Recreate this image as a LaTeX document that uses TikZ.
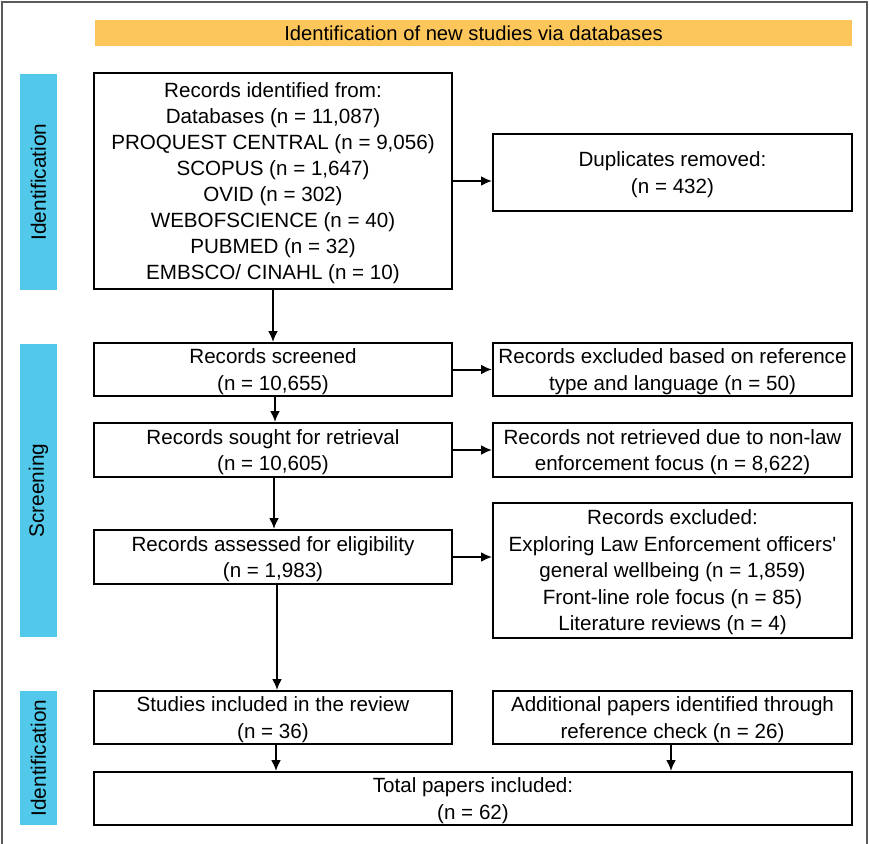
\documentclass[tikz,border=0pt]{standalone}
\usepackage{fontspec}
\setmainfont{Liberation Sans}[Ligatures=TeXOff]
\usetikzlibrary{arrows.meta}
\definecolor{bannerorange}{RGB}{253,198,90}
\definecolor{sidecyan}{RGB}{82,201,234}
\definecolor{framegray}{RGB}{90,90,90}
\begin{document}
\begin{tikzpicture}[x=1pt,y=-1pt,
  box/.style={draw=black, line width=2pt, fill=white, align=center, inner sep=0pt,
    font=\fontsize{20.6}{26.5}\selectfont, text=black, text depth=-2pt},
  arr/.style={line width=2pt, -{Latex[length=11pt,width=10pt]}},
  sidelabel/.style={fill=sidecyan, inner sep=0pt, rotate=90, minimum height=37pt,
    font=\fontsize{20.8}{24}\selectfont, text=black},
  banner/.style={fill=bannerorange, inner sep=0pt, font=\fontsize{20.2}{24}\selectfont, text=black},
]
\useasboundingbox (0,0) rectangle (869,843);
\fill[white] (0,0) rectangle (869,843);
\draw[framegray, line width=1.4pt] (2,2) rectangle (867,852);

\node[banner, minimum width=757pt, minimum height=26pt] (ban) at (473.5,33)
  {Identification of new studies via databases};

\node[sidelabel, minimum width=216pt] (s1) at (38.5,182) {Identification};
\node[sidelabel, minimum width=293pt] (s2) at (38.5,490.5) {Screening};
\node[sidelabel, minimum width=134pt] (s3) at (38.5,758) {Identification};

\node[box, minimum width=358pt, minimum height=216pt, text depth=-8pt,
      font=\fontsize{20.6}{26.1}\selectfont] (b1) at (273,181)
  {Records identified from:\\Databases (n = 11,087)\\PROQUEST CENTRAL (n = 9,056)\\SCOPUS (n = 1,647)\\OVID (n = 302)\\WEBOFSCIENCE (n = 40)\\PUBMED (n = 32)\\EMBSCO/ CINAHL (n = 10)};
\node[box, minimum width=359pt, minimum height=77pt] (dup) at (672.5,172.5)
  {Duplicates removed:\\(n = 432)};

\node[box, minimum width=358pt, minimum height=53pt] (scr) at (273,369.5)
  {Records screened\\(n = 10,655)};
\node[box, minimum width=359pt, minimum height=53pt] (exc1) at (672.5,369.5)
  {Records excluded based on reference\\type and language (n = 50)};

\node[box, minimum width=358pt, minimum height=54pt] (sou) at (273,450)
  {Records sought for retrieval\\(n = 10,605)};
\node[box, minimum width=359pt, minimum height=54pt] (nr) at (672.5,450)
  {Records not retrieved due to non-law\\enforcement focus (n = 8,622)};

\node[box, minimum width=358pt, minimum height=54pt] (ass) at (273,557)
  {Records assessed for eligibility\\(n = 1,983)};
\node[box, minimum width=359pt, minimum height=135pt] (exc2) at (672.5,570.5)
  {Records excluded:\\Exploring Law Enforcement officers'\\general wellbeing (n = 1,859)\\Front-line role focus (n = 85)\\Literature reviews (n = 4)};

\node[box, minimum width=358pt, minimum height=53pt] (stu) at (273,717.5)
  {Studies included in the review\\(n = 36)};
\node[box, minimum width=359pt, minimum height=53pt] (add) at (672.5,717.5)
  {Additional papers identified through\\reference check (n = 26)};

\node[box, minimum width=758pt, minimum height=53pt] (tot) at (473,798.5)
  {Total papers included:\\(n = 62)};

\draw[arr] (b1.south) -- (scr.north);
\draw[arr] ([xshift=2pt]scr.south) -- ([xshift=2pt]sou.north);
\draw[arr] ([xshift=1pt]sou.south) -- ([xshift=1pt]ass.north);
\draw[arr] ([xshift=4pt]ass.south) -- ([xshift=4pt]stu.north);
\draw[arr] ([xshift=3pt]stu.south) -- ([xshift=3pt]stu.south |- tot.north);
\draw[arr] ([xshift=-1.5pt]add.south) -- ([xshift=-1.5pt]add.south |- tot.north);

\draw[arr] (b1.east) -- (b1.east -| dup.west);
\draw[arr] (scr.east) -- (exc1.west);
\draw[arr] (sou.east) -- (nr.west);
\draw[arr] (ass.east) -- (ass.east -| exc2.west);
\end{tikzpicture}
\end{document}
